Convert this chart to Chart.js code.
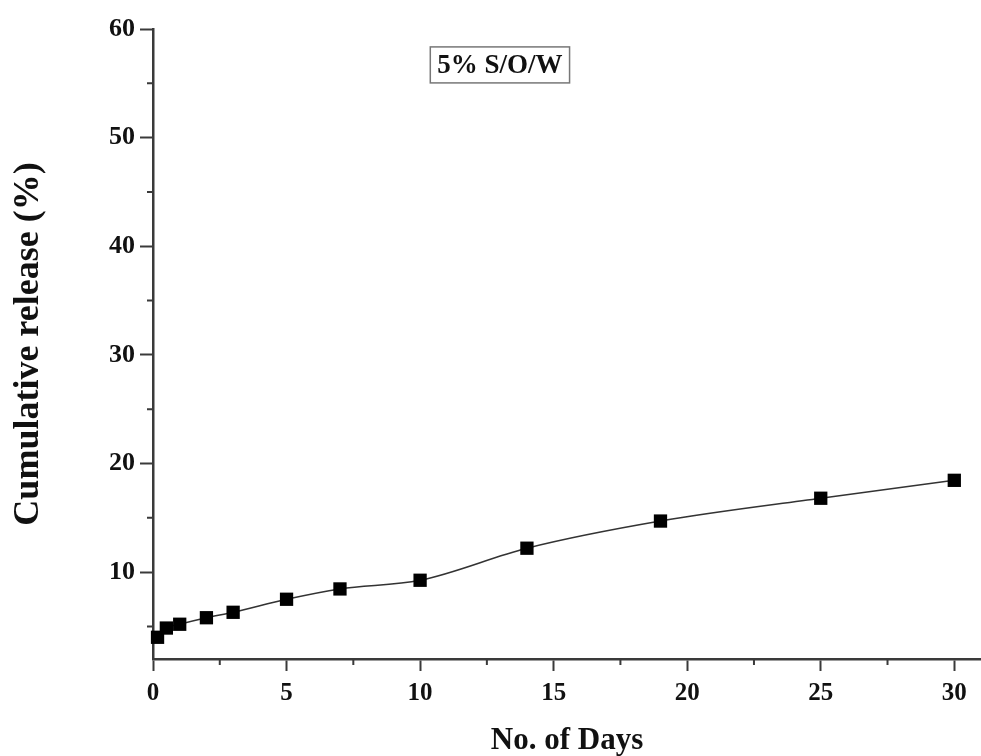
<!DOCTYPE html>
<html>
<head>
<meta charset="utf-8">
<title>Cumulative release</title>
<script src="https://cdn.jsdelivr.net/npm/chart.js@4/dist/chart.umd.min.js"></script>
<style>
  body { margin: 0; background: #fff; overflow: hidden; }
  canvas { display: block; }
</style>
</head>
<body>
<canvas id="releaseChart" width="981" height="756"></canvas>
<script>
// setup
const days = [0.17, 0.5, 1, 2, 3, 5, 7, 10, 14, 19, 25, 30];
const release = [4.0, 4.85, 5.2, 5.8, 6.3, 7.5, 8.45, 9.25, 12.2, 14.7, 16.8, 18.45];
const xTicks = [0, 5, 10, 15, 20, 25, 30];
const yTicks = [10, 20, 30, 40, 50, 60];
const xMinor = [2.5, 7.5, 12.5, 17.5, 22.5, 27.5];
const yMinor = [5, 15, 25, 35, 45, 55];
const seriesLabel = '5% S/O/W';

const serif = "'Liberation Serif', 'Times New Roman', serif";
const axisColor = '#3a3a3a';

const data = {
  datasets: [{
    label: seriesLabel,
    data: days.map((d, i) => ({ x: d, y: release[i] })),
    borderColor: '#333',
    borderWidth: 1.6,
    backgroundColor: '#000',
    pointStyle: 'rect',
    pointRadius: 9.4,
    pointHoverRadius: 9.4,
    pointBorderWidth: 0,
    cubicInterpolationMode: 'monotone',
    clip: false
  }]
};

// small minor ticks + the boxed series label
const extras = {
  id: 'extras',
  afterDraw(chart) {
    const ctx = chart.ctx;
    const x = chart.scales.x, y = chart.scales.y;
    ctx.save();
    ctx.strokeStyle = axisColor;
    ctx.lineWidth = 2;
    ctx.beginPath();
    xMinor.forEach(v => {
      const px = x.getPixelForValue(v);
      ctx.moveTo(px, y.bottom);
      ctx.lineTo(px, y.bottom + 6);
    });
    yMinor.forEach(v => {
      const py = y.getPixelForValue(v);
      ctx.moveTo(x.left, py);
      ctx.lineTo(x.left - 6, py);
    });
    ctx.stroke();

    // label box
    const a = chart.chartArea;
    const cx = a.left + (a.right - a.left) * 0.419;
    const cy = a.top + (a.bottom - a.top) * 0.057;
    ctx.font = 'bold 27px ' + serif;
    ctx.textAlign = 'center';
    ctx.textBaseline = 'middle';
    const w = ctx.measureText(seriesLabel).width + 14;
    ctx.strokeStyle = '#777';
    ctx.lineWidth = 1.5;
    ctx.strokeRect(cx - w / 2, cy - 18, w, 36);
    ctx.fillStyle = '#111';
    ctx.fillText(seriesLabel, cx, cy + 1);
    ctx.restore();
  }
};

// config
const config = {
  type: 'line',
  data,
  options: {
    responsive: false,
    animation: false,
    events: [],
    layout: { autoPadding: false, padding: { top: 29, right: 0, left: 0, bottom: 0 } },
    plugins: {
      legend: { display: false },
      tooltip: { enabled: false }
    },
    scales: {
      x: {
        type: 'linear',
        min: 0,
        max: 31,
        afterBuildTicks: s => { s.ticks = xTicks.map(v => ({ value: v })); },
        afterFit: s => { s.height = 97; s.paddingRight = 0; },
        border: { display: true, color: axisColor, width: 2.5 },
        grid: { drawOnChartArea: false, drawTicks: true, tickLength: 12, tickColor: axisColor, tickWidth: 2 },
        ticks: { color: '#111', padding: 8, maxRotation: 0, font: { family: serif, size: 25, weight: 'bold' } },
        title: {
          display: true,
          text: 'No. of Days',
          color: '#111',
          padding: { top: 0, bottom: 0 },
          font: { family: serif, size: 31, weight: 'bold', lineHeight: 1 }
        }
      },
      y: {
        min: 2,
        max: 60,
        afterBuildTicks: s => { s.ticks = yTicks.map(v => ({ value: v })); },
        afterFit: s => { s.width = 153; },
        border: { display: true, color: axisColor, width: 2.5 },
        grid: { drawOnChartArea: false, drawTicks: true, tickLength: 13, tickColor: axisColor, tickWidth: 2 },
        ticks: { color: '#111', padding: 5, font: { family: serif, size: 26, weight: 'bold' } },
        title: {
          display: true,
          text: 'Cumulative release (%)',
          color: '#111',
          padding: { top: 7, bottom: 0 },
          font: { family: serif, size: 36, weight: 'bold' }
        }
      }
    }
  },
  plugins: [extras]
};

// render init block
const myChart = new Chart(
  document.getElementById('releaseChart'),
  config
);
</script>
</body>
</html>
